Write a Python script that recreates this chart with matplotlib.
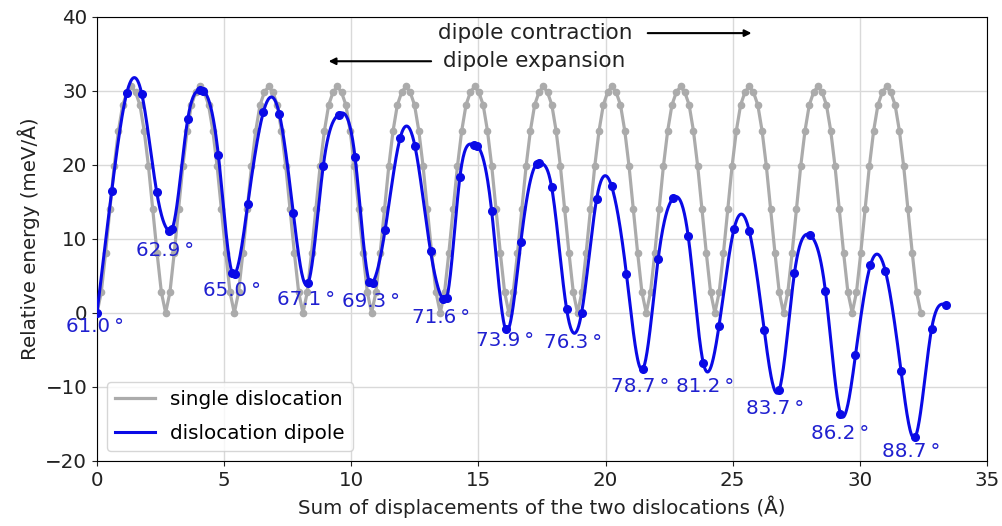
import matplotlib
matplotlib.use('Agg')
import matplotlib.pyplot as plt
import numpy as np

# single dislocation: energy along the path, uniform steps of 2.7/16 A
single_step = 0.16875
single_y = [
    0, 2.8, 8.1, 14.0, 19.8, 24.6, 28.1, 29.8, 30.6, 29.8, 28.1, 24.6, 19.8, 14.0, 8.1, 2.8,
    0, 2.8, 8.1, 14.0, 19.8, 24.6, 28.1, 29.8, 30.6, 29.8, 28.1, 24.6, 19.8, 14.0, 8.1, 2.8,
    0, 2.8, 8.1, 14.0, 19.8, 24.6, 28.1, 29.8, 30.6, 29.8, 28.1, 24.6, 19.8, 14.0, 8.1, 2.8,
    0, 2.8, 8.1, 14.0, 19.8, 24.6, 28.1, 29.8, 30.6, 29.8, 28.1, 24.6, 19.8, 14.0, 8.1, 2.8,
    0, 2.8, 8.1, 14.0, 19.8, 24.6, 28.1, 29.8, 30.6, 29.8, 28.1, 24.6, 19.8, 14.0, 8.1, 2.8,
    0, 2.8, 8.1, 14.0, 19.8, 24.6, 28.1, 29.8, 30.6, 29.8, 28.1, 24.6, 19.8, 14.0, 8.1, 2.8,
    0, 2.8, 8.1, 14.0, 19.8, 24.6, 28.1, 29.8, 30.6, 29.8, 28.1, 24.6, 19.8, 14.0, 8.1, 2.8,
    0, 2.8, 8.1, 14.0, 19.8, 24.6, 28.1, 29.8, 30.6, 29.8, 28.1, 24.6, 19.8, 14.0, 8.1, 2.8,
    0, 2.8, 8.1, 14.0, 19.8, 24.6, 28.1, 29.8, 30.6, 29.8, 28.1, 24.6, 19.8, 14.0, 8.1, 2.8,
    0, 2.8, 8.1, 14.0, 19.8, 24.6, 28.1, 29.8, 30.6, 29.8, 28.1, 24.6, 19.8, 14.0, 8.1, 2.8,
    0, 2.8, 8.1, 14.0, 19.8, 24.6, 28.1, 29.8, 30.6, 29.8, 28.1, 24.6, 19.8, 14.0, 8.1, 2.8,
    0, 2.8, 8.1, 14.0, 19.8, 24.6, 28.1, 29.8, 30.6, 29.8, 28.1, 24.6, 19.8, 14.0, 8.1, 2.8,
    0,
]
single_x = np.arange(len(single_y)) * single_step

# dislocation dipole
dipole_x = [0, 0.58, 1.17, 1.76, 2.35, 2.83, 2.96, 3.57, 4.05, 4.18,
            4.77, 5.32, 5.43, 5.93, 6.54, 7.17, 7.72, 8.31, 8.9, 9.5,
            10.15, 10.71, 10.84, 11.33, 11.92, 12.5, 13.12, 13.6, 13.75, 14.27,
            14.84, 14.93, 15.52, 16.07, 16.67, 17.29, 17.39, 17.88, 18.47, 19.06,
            19.65, 20.24, 20.82, 21.46, 22.07, 22.66, 23.25, 23.84, 24.46, 25.05,
            25.65, 26.24, 26.83, 27.43, 28.04, 28.65, 29.24, 29.83, 30.42, 31.01,
            31.62, 32.17, 32.82, 33.39]
dipole_y = [0, 16.5, 29.7, 29.6, 16.3, 11.1, 11.4, 26.2, 30.1, 30.0,
            21.4, 5.4, 5.3, 14.7, 27.1, 26.9, 13.5, 4.1, 19.9, 26.8,
            21.0, 4.2, 4.1, 11.2, 23.6, 22.6, 8.3, 1.85, 2.0, 18.3,
            22.7, 22.6, 13.8, -2.2, 9.6, 20.1, 20.2, 17.0, 0.5, 0.05,
            15.4, 17.1, 5.3, -7.6, 7.3, 15.5, 10.4, -6.7, -1.8, 11.3,
            11.1, -2.3, -10.4, 5.4, 10.5, 2.9, -13.6, -5.7, 6.5, 5.6,
            -7.8, -16.8, -2.2, 1.1]

# dipole angles at the minima
angles = ['61.0', '62.9', '65.0', '67.1', '69.3', '71.6', '73.9',
          '76.3', '78.7', '81.2', '83.7', '86.2', '88.7']
angle_x = [-0.08, 2.67, 5.29, 8.21, 10.77, 13.52, 16.06, 18.73, 21.35, 23.92, 26.66, 29.22, 32.04]
angle_y = [-1.9, 8.5, 3.0, 1.76, 1.5, -0.6, -3.7, -4.0, -9.9, -9.96, -12.9, -16.3, -18.7]


def cubic_spline(x, y, xs):
    # natural cubic spline through the dots (smooth line only)
    x = np.asarray(x, float)
    y = np.asarray(y, float)
    n = len(x)
    h = np.diff(x)
    A = np.zeros((n, n))
    r = np.zeros(n)
    A[0, 0] = 1
    A[-1, -1] = 1
    for i in range(1, n - 1):
        A[i, i - 1] = h[i - 1]
        A[i, i] = 2 * (h[i - 1] + h[i])
        A[i, i + 1] = h[i]
        r[i] = 3 * ((y[i + 1] - y[i]) / h[i] - (y[i] - y[i - 1]) / h[i - 1])
    c = np.linalg.solve(A, r)
    b = (y[1:] - y[:-1]) / h - h * (2 * c[:-1] + c[1:]) / 3
    d = (c[1:] - c[:-1]) / (3 * h)
    k = np.clip(np.searchsorted(x, xs) - 1, 0, n - 2)
    t = xs - x[k]
    return y[k] + b[k] * t + c[k] * t**2 + d[k] * t**3


fs = 14.3
fig = plt.figure(figsize=(10.03, 5.26), dpi=100)
ax = fig.add_axes([0.0967, 0.1236, 0.8873, 0.8444])

gray = '#ababab'
blue = '#0a0ae6'
ax.plot(single_x, single_y, color=gray, lw=2.3, label='single dislocation', zorder=2)
ax.plot(single_x, single_y, 'o', color=gray, ms=4.5, zorder=2)

xs = np.linspace(dipole_x[0], dipole_x[-1], 2000)
ax.plot(xs, cubic_spline(dipole_x, dipole_y, xs), color=blue, lw=2.2,
        label='dislocation dipole', zorder=3)
ax.plot(dipole_x, dipole_y, 'o', color=blue, ms=5.5, zorder=4)

for a, tx, ty in zip(angles, angle_x, angle_y):
    ax.text(tx, ty, a + '\u2009°', color='#2020d0', fontsize=fs,
            ha='center', va='center', zorder=5)

# arrows
fa = 15.5
ax.text(13.4, 37.8, 'dipole contraction', fontsize=fa, ha='left', va='center',
        color='#222222')
ax.annotate('', xy=(25.85, 37.8), xytext=(21.55, 37.8),
            arrowprops=dict(arrowstyle='-|>', color='black', lw=1.5))
ax.text(13.6, 34.0, 'dipole expansion', fontsize=fa, ha='left', va='center',
        color='#222222')
ax.annotate('', xy=(9.0, 34.0), xytext=(13.25, 34.0),
            arrowprops=dict(arrowstyle='-|>', color='black', lw=1.5))

ax.set_xlim(0, 35)
ax.set_ylim(-20, 40)
ax.set_xticks(np.arange(0, 36, 5))
ax.set_yticks(np.arange(-20, 41, 10))
ax.grid(True, color='#d9d9d9', lw=1)
ax.set_axisbelow(True)
ax.tick_params(labelsize=fs, colors='#222222')
ax.set_xlabel('Sum of displacements of the two dislocations (Å)', fontsize=fs,
              color='#222222')
ax.set_ylabel('Relative energy (meV/Å)', fontsize=fs, color='#222222')
ax.legend(loc='lower left', fontsize=fs, handlelength=2, borderaxespad=0.5,
          labelspacing=0.75)

fig.savefig('out.png', dpi=100)
